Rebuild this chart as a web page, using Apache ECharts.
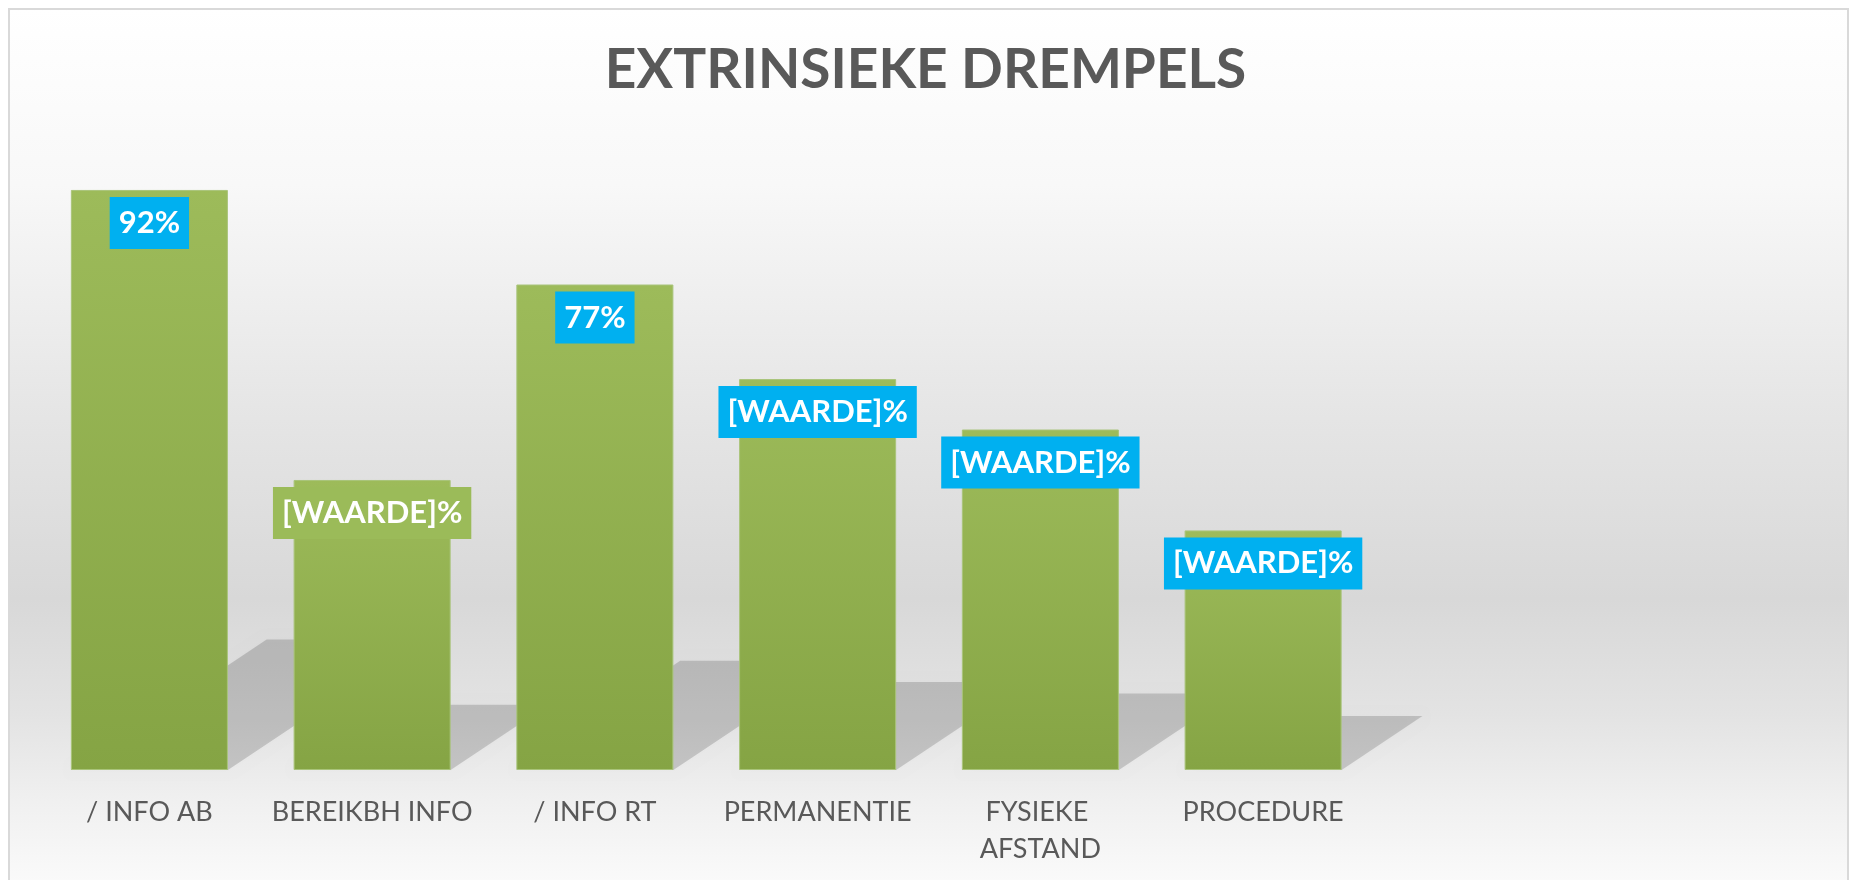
<!DOCTYPE html>
<html>
<head>
<meta charset="utf-8">
<title>Extrinsieke drempels</title>
<script src="https://cdn.jsdelivr.net/npm/echarts@6.0.0/dist/echarts.min.js"></script>
<style>
  html, body { margin: 0; padding: 0; background: #ffffff; }
  #main { width: 1851px; height: 880px; }
</style>
</head>
<body>
<div id="main"></div>
<script>
// data
const categories = ['/ INFO AB', 'BEREIKBH INFO', '/ INFO RT', 'PERMANENTIE', 'FYSIEKE AFSTAND', 'PROCEDURE', '', ''];
const values = [92, 46, 77, 62, 54, 38, null, null];
const labelTexts = ['92%', '[WAARDE]%', '77%', '[WAARDE]%', '[WAARDE]%', '[WAARDE]%', '', ''];

const BAR_GAP = 0.295;   // barCategoryGap
const labelBlue = '#00B0F0';
const labelGreen = '#9BBB59';

let barData = values.map(function (v, i) {
  return {
    value: v,
    label: {
      backgroundColor: i === 1 ? labelGreen : labelBlue
    }
  };
});

// perspective shadow behind each bar (drawn from the same scales)
function renderShadow(params, api) {
  let idx = api.value(0);
  let v = api.value(1);
  if (v == null || isNaN(v)) return;
  let base = api.coord([idx, 0]);
  let top = api.coord([idx, v]);
  let bw = api.size([1, 0])[0] * (1 - BAR_GAP);
  let h = base[1] - top[1];
  let sh = h * 0.225;
  let d = sh * 1.5;
  let x0 = base[0] - bw / 2, x1 = base[0] + bw / 2, y0 = base[1];
  return {
    type: 'polygon',
    shape: { points: [[x0, y0], [x1, y0], [x1 + d, y0 - sh], [x0 + d, y0 - sh]] },
    style: {
      fill: 'rgba(0,0,0,0.16)',
      shadowBlur: 10,
      shadowColor: 'rgba(0,0,0,0.08)'
    }
  };
}

let myChart = echarts.init(document.getElementById('main'));
myChart.setOption({
  animation: false,
  graphic: [{
    type: 'rect',
    z: -10,
    silent: true,
    shape: { x: 9, y: 9, width: 1839, height: 880 },
    style: {
      stroke: '#d9d9d9',
      lineWidth: 2,
      fill: new echarts.graphic.LinearGradient(0, 0, 0, 1, [
        { offset: 0, color: '#ffffff' },
        { offset: 0.2, color: '#f8f8f8' },
        { offset: 0.45, color: '#e6e6e6' },
        { offset: 0.67, color: '#d8d8d8' },
        { offset: 0.8, color: '#e3e3e3' },
        { offset: 0.9, color: '#f0f0f0' },
        { offset: 1, color: '#fbfbfb' }
      ])
    }
  }],
  title: {
    text: 'EXTRINSIEKE DREMPELS',
    left: 'center',
    top: 38,
    textStyle: {
      fontFamily: 'Lato',
      fontWeight: 'bold',
      fontSize: 55,
      color: '#595959'
    }
  },
  grid: { left: 38, right: 31, top: 139.5, bottom: 110, containLabel: false },
  xAxis: {
    type: 'category',
    data: categories,
    axisLine: { show: false },
    axisTick: { show: false },
    axisLabel: {
      interval: 0,
      margin: 24,
      fontFamily: 'Lato',
      fontSize: 27,
      lineHeight: 37,
      color: '#595959',
      width: 205,
      overflow: 'break'
    }
  },
  yAxis: {
    type: 'value',
    min: 0,
    max: 100,
    show: false,
    splitLine: { show: false }
  },
  series: [
    {
      type: 'custom',
      z: 1,
      silent: true,
      renderItem: renderShadow,
      data: values.map(function (v, i) { return [i, v]; })
    },
    {
      type: 'bar',
      z: 2,
      data: barData,
      barCategoryGap: (BAR_GAP * 100) + '%',
      itemStyle: {
        color: new echarts.graphic.LinearGradient(0, 0, 0, 1, [
          { offset: 0, color: '#9dbb5a' },
          { offset: 1, color: '#85a444' }
        ]),
        borderColor: '#a9c47a',
        borderWidth: 1
      },
      label: {
        show: true,
        position: 'insideTop',
        distance: 7,
        formatter: function (p) { return labelTexts[p.dataIndex]; },
        fontFamily: 'Lato',
        fontWeight: 'bold',
        fontSize: 31,
        lineHeight: 36,
        color: '#ffffff',
        padding: [8, 9]
      }
    }
  ]
});
</script>
</body>
</html>
